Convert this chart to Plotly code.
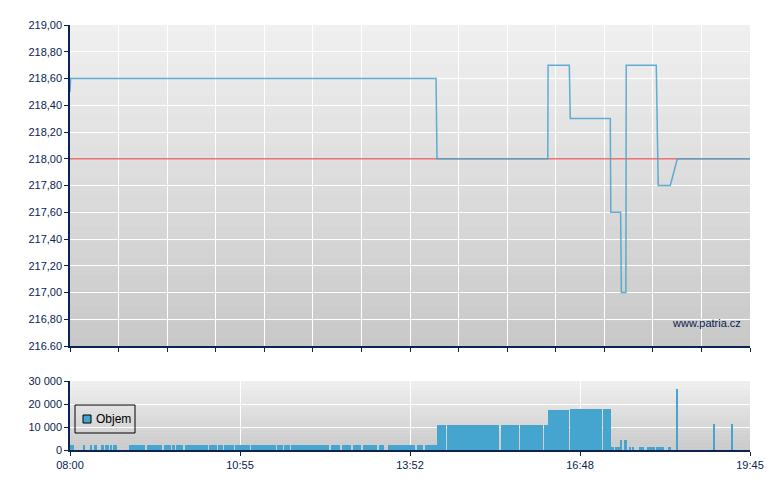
import pandas as pd
import plotly.graph_objects as go

DAY = "2024-01-01 "

# ---- price series (time, price) ----
price_times = ["08:00:00", "08:00:40", "14:19:30", "14:20:30", "16:15:20", "16:15:40",
               "16:37:40", "16:38:40", "17:20:10", "17:20:40", "17:30:50", "17:31:40",
               "17:36:20", "17:36:40", "18:07:50", "18:09:50", "18:22:20", "18:29:40", "19:45:00"]
price_values = [218.50, 218.60, 218.60, 218.00, 218.00, 218.70,
                218.70, 218.30, 218.30, 217.60, 217.60, 217.00,
                217.00, 218.70, 218.70, 217.80, 217.80, 218.00, 218.00]

# ---- reference (previous close) line ----
ref_times = ["08:00:00", "19:45:00"]
ref_values = [218.00, 218.00]

# ---- volume bars (start, end, volume) ----
vol_start = ["08:01", "08:03", "08:14", "08:21", "08:25", "08:32", "08:37", "08:39", "08:42", "08:45", "08:47",
             "09:01", "09:20", "09:37", "09:46", "09:50", "09:59", "10:24", "10:33", "10:40", "10:42", "10:51",
             "11:08", "11:29", "11:32", "11:35", "11:42", "11:46", "11:49", "12:31", "12:42", "12:53", "13:04",
             "13:20", "13:30", "14:00", "14:08",
             "14:20", "14:31:20", "15:26:20", "15:46:20", "16:11:20", "16:16", "16:38", "17:13",
             "17:21", "17:25", "17:31", "17:35", "17:40", "17:43", "17:50", "17:52", "17:59", "18:01", "18:04",
             "18:08", "18:10", "18:20", "18:22", "18:29", "19:07", "19:26"]
vol_end = ["08:02", "08:04", "08:16", "08:23", "08:28", "08:35", "08:38", "08:40", "08:43", "08:46", "08:49",
           "09:18", "09:35", "09:45", "09:49", "09:57", "10:23", "10:32", "10:39", "10:41", "10:50", "11:07",
           "11:28", "11:31", "11:34", "11:41", "11:45", "11:48", "12:28", "12:40", "12:51", "13:02", "13:18",
           "13:26", "13:58", "14:06", "14:20",
           "14:30", "15:25", "15:45", "16:10", "16:16", "16:37", "17:12", "17:21",
           "17:24", "17:31", "17:32", "17:37", "17:42", "17:45", "17:51", "17:55", "18:00", "18:03", "18:06",
           "18:09", "18:16", "18:21", "18:23", "18:30", "19:08", "19:27"]
vol_values = [2200] * 37 + [10900, 10900, 10900, 10900, 10900, 17400, 17800, 17800] + \
             [1300, 1300, 4300, 4300, 1300, 1300, 1300, 1300, 1300, 1300, 1300,
              1300, 1300, 1300, 1300, 26500, 11300, 11300]

# ---- axis labels ----
session_start, session_end = "08:00", "19:45"
x_tick_labels = ["08:00", "10:55", "13:52", "16:48", "19:45"]
price_ticks = [216.6, 216.8, 217.0, 217.2, 217.4, 217.6, 217.8, 218.0, 218.2, 218.4, 218.6, 218.8, 219.0]
price_tick_labels = ["216.60", "216,80", "217,00", "217,20", "217,40", "217,60", "217,80",
                     "218,00", "218,20", "218,40", "218,60", "218,80", "219,00"]
vol_ticks = [0, 10000, 20000, 30000]
vol_tick_labels = ["0", "10 000", "20 000", "30 000"]
legend_label = "Objem"


def ts(s):
    return pd.Timestamp(DAY + s)


x0, x1 = ts(session_start), ts(session_end)
vs = [ts(s) for s in vol_start]
ve = [ts(s) for s in vol_end]
widths = [(b - a).total_seconds() * 1000 for a, b in zip(vs, ve)]

NAVY = "#0a2350"
BLUE = "#45a5cf"
FAM = "Liberation Sans, Arial, sans-serif"
FONT = dict(family=FAM, size=11, color=NAVY)

fig = go.Figure()

fig.add_trace(go.Scatter(x=[ts(s) for s in ref_times], y=ref_values, mode="lines",
                         line=dict(color="rgba(235,80,80,0.8)", width=1.5),
                         showlegend=False, xaxis="x", yaxis="y", hoverinfo="skip"))
fig.add_trace(go.Scatter(x=[ts(s) for s in price_times], y=price_values, mode="lines",
                         line=dict(color="rgba(70,162,206,0.85)", width=1.5),
                         showlegend=False, xaxis="x", yaxis="y"))
fig.add_trace(go.Bar(x=vs, y=vol_values, width=widths, offset=0,
                     marker=dict(color=BLUE, line=dict(width=0)),
                     showlegend=False, xaxis="x2", yaxis="y2", name=legend_label))

# gradient backgrounds
shapes = []
N = 40
def grad(xref, yref, top, bottom):
    for i in range(N):
        f = (i + 0.5) / N
        v = int(round(bottom + (top - bottom) * f))
        shapes.append(dict(type="rect", xref=xref, yref=yref, x0=0, x1=1,
                           y0=i / N, y1=min(1, (i + 1.05) / N),
                           fillcolor=f"rgb({v},{v},{v})", line=dict(width=0), layer="below"))
grad("x domain", "y domain", 240, 200)
grad("x2 domain", "y2 domain", 241, 201)

# legend box (drawn in the volume panel, top-left)
PW, VH = 680.0, 69.0
shapes.append(dict(type="rect", xref="x2 domain", yref="y2 domain",
                   x0=5 / PW, x1=65 / PW, y0=(450 - 433) / VH, y1=(450 - 405) / VH,
                   line=dict(color="black", width=1), fillcolor="rgba(0,0,0,0)", layer="above"))
shapes.append(dict(type="rect", xref="x2 domain", yref="y2 domain",
                   x0=13 / PW, x1=21 / PW, y0=(450 - 423) / VH, y1=(450 - 415) / VH,
                   line=dict(color="black", width=1), fillcolor=BLUE, layer="above"))

H = 425.0
main_bottom = (450 - 346) / H
vol_top = (450 - 381) / H

span_ms = (x1 - x0).total_seconds() * 1000
tickpos = [x0 + (x1 - x0) * k / 4 for k in range(5)]

axis_common = dict(showgrid=True, gridcolor="white", gridwidth=1,
                   ticks="outside", ticklen=4, tickcolor=NAVY,
                   showline=True, linecolor=NAVY, linewidth=1.5, zeroline=False)

fig.update_layout(
    width=772, height=482,
    margin=dict(l=62, r=30, t=17, b=40),
    paper_bgcolor="white", plot_bgcolor="#dcdcdc",
    font=FONT,
    shapes=shapes,
    bargap=0,
    showlegend=False,
    xaxis=dict(type="date", range=[x0, x1], domain=[0, 1], anchor="y",
               tick0=x0, dtick=span_ms / 14, showticklabels=False, **axis_common),
    yaxis=dict(range=[216.6, 219.0], domain=[main_bottom, 1], anchor="x",
               tickvals=price_ticks, ticktext=price_tick_labels, **axis_common),
    xaxis2=dict(type="date", range=[x0, x1], domain=[0, 1], anchor="y2",
                tickvals=tickpos, ticktext=x_tick_labels, **axis_common),
    yaxis2=dict(range=[0, 30000], domain=[0, vol_top], anchor="x2",
                tickvals=vol_ticks, ticktext=vol_tick_labels, **axis_common),
    annotations=[
        dict(text="www.patria.cz", xref="x domain", yref="y domain",
             x=(743 - 70) / 680, y=(346 - 323) / 321, xanchor="right", yanchor="middle",
             showarrow=False, font=dict(family=FAM, size=11, color=NAVY)),
        dict(text=legend_label, xref="x2 domain", yref="y2 domain",
             x=24 / PW, y=(450 - 419) / VH, xanchor="left", yanchor="middle",
             showarrow=False, font=dict(family=FAM, size=12, color="black")),
    ],
)

fig.write_html("out.html")
